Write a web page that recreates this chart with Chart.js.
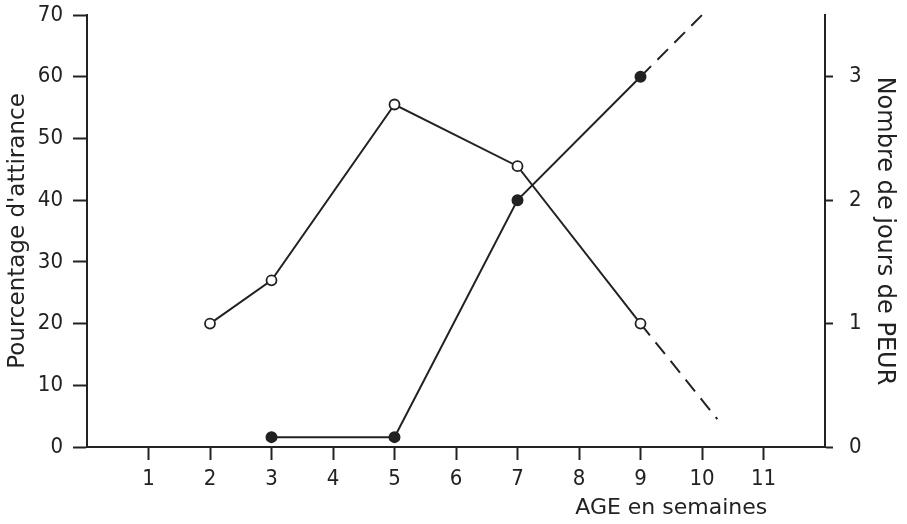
<!DOCTYPE html>
<html>
<head>
<meta charset="utf-8">
<script src="https://cdn.jsdelivr.net/npm/chart.js@4/dist/chart.umd.min.js"></script>
<style>
  html, body { margin: 0; padding: 0; background: #fff; }
  #wrap { width: 907px; height: 524px; }
</style>
</head>
<body>
<div id="wrap"><canvas id="ageChart"></canvas></div>
<script>
// values (last point of each series = end of the dashed extrapolation)
const attractionAges = [2, 3, 5, 7, 9, 10.25];
const attractionPct = [20, 27, 55.5, 45.5, 20, 4.5];
const fearAges = [3, 5, 7, 9, 10];
const fearDays = [0.08, 0.08, 2, 3, 3.5];
const ageTicks = [1, 2, 3, 4, 5, 6, 7, 8, 9, 10, 11];
const pctTicks = [0, 10, 20, 30, 40, 50, 60, 70];
const dayTicks = [0, 1, 2, 3];

const ink = '#222';
const tickFont = { family: "'DejaVu Sans Condensed', 'DejaVu Sans', sans-serif", size: 22 };

const toPoints = (xs, ys) => xs.map((x, i) => ({ x: x, y: ys[i] }));
const lastIdx = arr => arr.length - 1;

// x title sits under ticks 8..11, drawn by hand
const xTitlePlugin = {
    id: 'xTitle',
    afterDraw(chart) {
        const c = chart.ctx;
        const xs = chart.scales.x;
        c.save();
        c.font = "22px 'DejaVu Sans', sans-serif";
        c.fillStyle = ink;
        c.textAlign = 'center';
        c.textBaseline = 'middle';
        c.fillText('AGE en semaines', xs.getPixelForValue(9.5), 508);
        c.restore();
    }
};

const ctx = document.getElementById('ageChart').getContext('2d');
const ageChart = new Chart(ctx, {
    type: 'line',
    data: {
        datasets: [{
            label: "Pourcentage d'attirance",
            data: toPoints(attractionAges, attractionPct),
            yAxisID: 'y',
            borderColor: ink,
            borderWidth: 2,
            pointBackgroundColor: '#fff',
            pointBorderColor: ink,
            pointBorderWidth: 1.8,
            pointRadius: c => c.dataIndex === lastIdx(attractionAges) ? 0 : 5,
            segment: {
                borderDash: c => c.p1DataIndex === lastIdx(attractionAges) ? [15, 9] : undefined
            },
            tension: 0,
            clip: false
        }, {
            label: 'Nombre de jours de PEUR',
            data: toPoints(fearAges, fearDays),
            yAxisID: 'y1',
            borderColor: ink,
            borderWidth: 2,
            pointBackgroundColor: ink,
            pointBorderColor: ink,
            pointRadius: c => c.dataIndex === lastIdx(fearAges) ? 0 : 5,
            segment: {
                borderDash: c => c.p1DataIndex === lastIdx(fearAges) ? [15, 9] : undefined
            },
            tension: 0,
            clip: false
        }]
    },
    options: {
        responsive: true,
        maintainAspectRatio: false,
        animation: false,
        layout: { padding: { top: 15, left: 0, right: 0, bottom: 0 } },
        plugins: {
            legend: { display: false },
            tooltip: { enabled: false }
        },
        scales: {
            x: {
                type: 'linear',
                min: 0,
                max: 12,
                afterBuildTicks: s => { s.ticks = ageTicks.map(v => ({ value: v })); },
                afterFit: s => { s.height = 77; s.paddingLeft = 0; s.paddingRight = 0; },
                border: { display: true, color: ink, width: 2 },
                grid: { drawOnChartArea: false, drawTicks: true, tickLength: 13, tickWidth: 2, tickColor: ink },
                ticks: { color: ink, font: tickFont, padding: 6, maxRotation: 0 }
            },
            y: {
                position: 'left',
                min: 0,
                max: 70,
                afterBuildTicks: s => { s.ticks = pctTicks.map(v => ({ value: v })); },
                afterFit: s => { s.width = 87; s.paddingTop = 0; s.paddingBottom = 0; },
                border: { display: true, color: ink, width: 2 },
                grid: { drawOnChartArea: false, drawTicks: true, tickLength: 14, tickWidth: 2, tickColor: ink },
                ticks: { color: ink, font: tickFont, padding: 10 },
                title: { display: true, text: "Pourcentage d'attirance", color: ink, font: { family: "'DejaVu Sans', sans-serif", size: 23 }, padding: { top: 4, bottom: 0 } }
            },
            y1: {
                position: 'right',
                min: 0,
                max: 3.5,
                afterBuildTicks: s => { s.ticks = dayTicks.map(v => ({ value: v })); },
                afterFit: s => { s.width = 82; s.paddingTop = 0; s.paddingBottom = 0; },
                border: { display: true, color: ink, width: 2 },
                grid: { drawOnChartArea: false, drawTicks: true, tickLength: 8, tickWidth: 2, tickColor: ink },
                ticks: { color: ink, font: tickFont, padding: 16 },
                title: { display: true, text: 'Nombre de jours de PEUR', color: ink, font: { family: "'DejaVu Sans', sans-serif", size: 24 }, padding: { top: 8, bottom: 0 } }
            }
        }
    },
    plugins: [xTitlePlugin]
});
</script>
</body>
</html>
